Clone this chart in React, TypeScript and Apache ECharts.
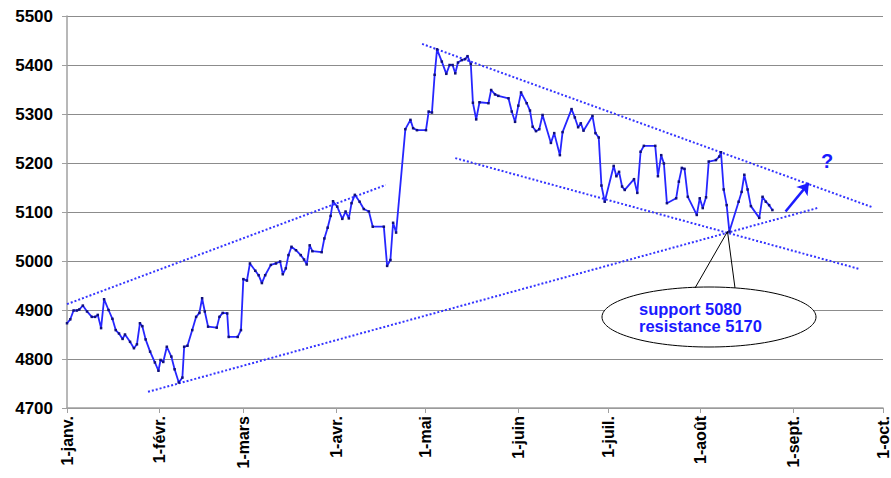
import React, { useEffect, useRef } from "react";
import * as echarts from "echarts";

// Day offsets from 1 January and index levels
const days = [
  0.0, 1.1, 2.2, 3.3, 4.1, 5.3, 6.7, 8.3, 9.4, 10.3, 11.4, 12.4, 13.9, 15.2, 16.3, 17.4, 18.6, 19.4, 21.1, 22.4,
  23.4, 24.4, 25.2, 26.3, 27.8, 29.4, 30.6, 31.3, 32.2, 33.4, 34.9, 36.0, 37.4, 38.6, 39.2, 40.3, 41.9, 43.2, 44.3, 45.2,
  46.1, 47.2, 50.1, 51.0, 52.1, 53.6, 54.1, 57.1, 58.2, 59.0, 60.2, 61.2, 63.0, 64.1, 65.2, 66.3, 68.2, 69.9, 71.3, 72.2,
  73.2, 74.1, 75.1, 76.6, 78.2, 79.3, 80.2, 81.2, 82.1, 85.2, 86.1, 87.2, 88.2, 89.0, 90.4, 92.1, 93.2, 94.3, 95.2, 96.3,
  97.9, 99.3, 101.0, 102.3, 106.0, 107.1, 108.2, 109.1, 110.1, 113.2, 114.9, 115.8, 117.1, 120.1, 121.0, 122.1, 123.0, 123.8, 125.4, 126.9,
  128.0, 129.0, 129.9, 130.8, 132.1, 133.2, 134.0, 135.1, 135.8, 136.9, 138.0, 141.0, 141.9, 143.2, 144.3, 147.7, 148.8, 149.9, 151.0, 151.9,
  153.8, 154.9, 155.8, 156.9, 158.0, 159.1, 161.9, 163.0, 164.9, 165.8, 168.8, 169.9, 171.0, 171.9, 172.8, 175.8, 176.8, 177.9, 178.8, 179.9,
  182.9, 183.8, 184.7, 185.7, 186.6, 189.7, 190.8, 191.9, 193.0, 196.8, 197.7, 198.8, 199.7, 200.7, 203.8, 204.7, 205.7, 206.6, 207.7, 210.7,
  211.7, 212.7, 213.8, 214.7, 217.1, 218.2, 218.8, 219.7, 220.7, 221.6, 224.7, 225.7, 226.6, 227.7, 228.8, 231.6, 232.7, 233.8, 234.9, 236.0,
];
const values = [
  4873, 4881, 4899, 4899, 4901, 4909, 4897, 4886, 4886, 4890, 4863, 4922, 4900, 4882, 4859, 4852, 4841, 4850, 4835, 4822,
  4830, 4873, 4867, 4840, 4815, 4793, 4776, 4798, 4794, 4825, 4805, 4779, 4752, 4762, 4825, 4827, 4859, 4886, 4894, 4924,
  4897, 4866, 4864, 4886, 4894, 4893, 4845, 4845, 4859, 4963, 4960, 4995, 4980, 4971, 4955, 4971, 4992, 4995, 4999, 4973,
  4985, 5012, 5029, 5022, 5012, 5003, 4993, 5032, 5020, 5018, 5046, 5068, 5092, 5122, 5111, 5086, 5101, 5087, 5118, 5135,
  5121, 5106, 5101, 5070, 5070, 4990, 5002, 5078, 5058, 5269, 5288, 5271, 5267, 5267, 5305, 5303, 5380, 5432, 5407, 5382,
  5400, 5400, 5383, 5405, 5410, 5412, 5418, 5402, 5323, 5289, 5324, 5322, 5349, 5340, 5337, 5332, 5305, 5284, 5317, 5344,
  5322, 5307, 5274, 5265, 5269, 5298, 5241, 5261, 5216, 5263, 5310, 5293, 5273, 5281, 5266, 5296, 5261, 5252, 5154, 5121,
  5194, 5173, 5182, 5152, 5145, 5167, 5139, 5223, 5235, 5235, 5173, 5216, 5199, 5118, 5128, 5162, 5190, 5188, 5131, 5094,
  5128, 5108, 5130, 5203, 5206, 5213, 5222, 5146, 5114, 5060, 5121, 5141, 5176, 5146, 5112, 5088, 5131, 5121, 5114, 5104,
];

// Trend lines: [day, level] end points
const upperRising = [[0, 4912], [106.6, 5155]];
const supportLine = [[27.1, 4733], [251, 5108]];
const upperFalling = [[118.8, 5443], [269.3, 5110]];
const lowerFalling = [[129.9, 5210], [264.9, 4984]];
const arrowLine = [[240.4, 5101], [248.2, 5159]];

const monthStarts = [0, 31, 59, 90, 120, 151, 181, 212, 243, 273];
const monthLabels = ["1-janv.", "1-févr.", "1-mars", "1-avr.", "1-mai", "1-juin", "1-juil.", "1-août", "1-sept.", "1-oct."];

const yMin = 4700;
const yMax = 5500;
const yStep = 100;

const calloutLines = ["support 5080", "resistance 5170"];

export default function App() {
  const ref = useRef<HTMLDivElement>(null);
  useEffect(() => {
    if (!ref.current) return;
    document.body.style.margin = "0";
    const chart = echarts.init(ref.current, null, { renderer: "svg" });
    const blue = "#2626ff";
    const dotted = {
      color: "#3434ff",
      width: 2,
      type: [2, 2] as any,
    };
    const font = "'Liberation Sans', Arial, sans-serif";
    chart.setOption({
      animation: false,
      backgroundColor: "#ffffff",
      grid: { left: 67, right: 7, top: 16, bottom: 70, containLabel: false },
      xAxis: {
        type: "value",
        min: 0,
        max: 273,
        splitLine: { show: false },
        axisLine: { show: true, lineStyle: { color: "#a0a0a0", width: 1.5 } },
        axisTick: { show: true, length: 5, customValues: monthStarts, lineStyle: { color: "#a0a0a0" } },
        axisLabel: {
          customValues: monthStarts,
          rotate: 90,
          margin: 8,
          fontFamily: font,
          fontWeight: "bold",
          fontSize: 16,
          color: "#000",
          formatter: (v: number) => {
            const i = monthStarts.indexOf(Math.round(v));
            return i >= 0 ? monthLabels[i] : "";
          },
        },
      },
      yAxis: {
        type: "value",
        min: yMin,
        max: yMax,
        interval: yStep,
        axisLine: { show: true, lineStyle: { color: "#a0a0a0", width: 1.5 } },
        axisTick: { show: true, length: 5, lineStyle: { color: "#a0a0a0" } },
        splitLine: { show: true, lineStyle: { color: "#8c8c8c", width: 1 } },
        axisLabel: {
          margin: 14,
          fontFamily: font,
          fontWeight: "bold",
          fontSize: 17,
          color: "#000",
          formatter: (v: number) => String(v),
        },
      },
      series: [
        { type: "line", data: upperRising, symbol: "none", lineStyle: dotted, z: 3 },
        { type: "line", data: supportLine, symbol: "none", lineStyle: dotted, z: 3 },
        { type: "line", data: upperFalling, symbol: "none", lineStyle: dotted, z: 3 },
        { type: "line", data: lowerFalling, symbol: "none", lineStyle: dotted, z: 3 },
        {
          type: "line",
          data: days.map((d, i) => [d, values[i]]),
          symbol: "rect",
          symbolSize: 2.5,
          showSymbol: true,
          itemStyle: { color: "#10107a" },
          lineStyle: { color: blue, width: 1.8 },
          z: 4,
        },
        {
          type: "lines",
          coordinateSystem: "cartesian2d",
          symbol: ["none", "arrow"],
          symbolSize: 11,
          lineStyle: { color: "#1c1cff", width: 2.5, opacity: 1 },
          data: [{ coords: arrowLine }],
          z: 5,
        },
      ],
      graphic: [
        {
          type: "ellipse",
          shape: { cx: 709, cy: 317, rx: 107, ry: 30 },
          style: { fill: "#ffffff", stroke: "#000", lineWidth: 1 },
          z: 10,
        },
        {
          type: "polyline",
          shape: { points: [[695, 288], [727.5, 231.5], [735, 288]] },
          style: { fill: "none", stroke: "#000", lineWidth: 1 },
          z: 10,
        },
        ...calloutLines.map((t, i) => ({
          type: "text",
          x: 639,
          y: 308.5 + i * 17,
          style: {
            text: t,
            fill: "#1a1aff",
            font: `bold 16.5px ${font}`,
            verticalAlign: "middle",
          },
          z: 11,
        })),
        {
          type: "text",
          x: 821,
          y: 151,
          style: { text: "?", fill: "#1a1aff", font: `bold 20px ${font}` },
          z: 11,
        },
      ],
    });
    return () => chart.dispose();
  }, []);
  return <div ref={ref} style={{ width: 891, height: 478 }} />;
}
